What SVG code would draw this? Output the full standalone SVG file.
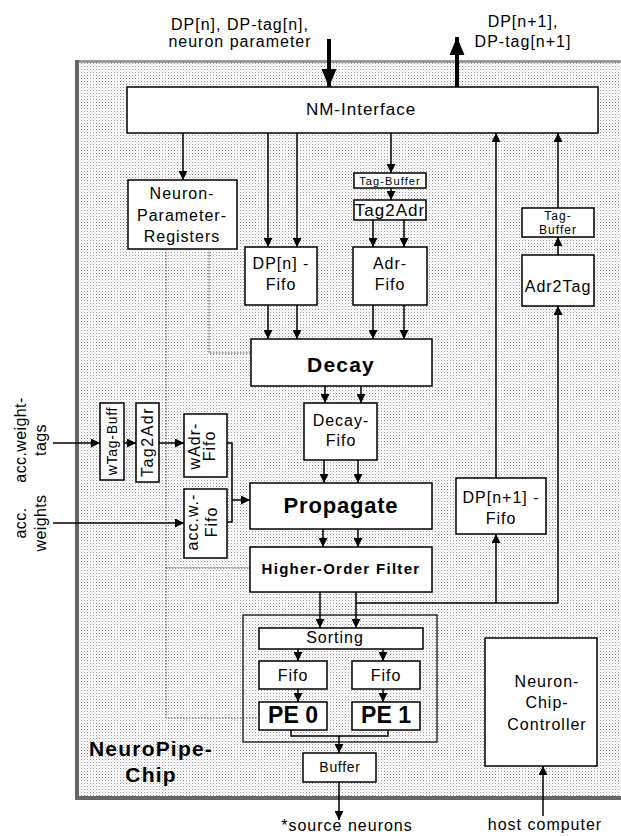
<svg xmlns="http://www.w3.org/2000/svg" width="621" height="836" viewBox="0 0 621 836">
<style>
text{font-family:"Liberation Sans",Arial,sans-serif;fill:#000;}
.t{font-size:16px;letter-spacing:1px;text-anchor:middle;}
.b{font-weight:bold;text-anchor:middle;}
.box{fill:#fff;stroke:#000;stroke-width:1.5;}
.c{fill:none;stroke:#000;stroke-width:1.5;}
.ca{fill:none;stroke:#000;stroke-width:1.5;marker-end:url(#ah);}
.dot{fill:none;stroke:#444;stroke-width:1;stroke-dasharray:1.5 1.5;}
</style>
<defs>
<pattern id="dots" patternUnits="userSpaceOnUse" width="3" height="3">
<rect width="3" height="3" fill="#fff"/>
<rect width="1" height="1" fill="#999"/>
<rect x="1.5" y="1.5" width="1" height="1" fill="#ccc"/>
</pattern>
<marker id="ah" viewBox="0 0 9 9" refX="9" refY="4.5" markerWidth="9" markerHeight="9" markerUnits="userSpaceOnUse" orient="auto"><path d="M0,0 L9,4.5 L0,9 z" fill="#000"/></marker>
<marker id="big" viewBox="0 0 18 15" refX="18" refY="7.5" markerWidth="18" markerHeight="15" markerUnits="userSpaceOnUse" orient="auto"><path d="M0,0 L18,7.5 L0,15 z" fill="#000"/></marker>
</defs>

<g id="chip">
<rect x="75" y="60" width="546" height="740" fill="url(#dots)"/>
<rect x="75" y="60" width="546" height="3" fill="#999"/>
<rect x="75" y="60" width="4" height="740" fill="#666"/>
<rect x="75" y="796" width="546" height="4" fill="#666"/>
<text x="151" y="756" class="b" style="font-size:21px;letter-spacing:1.2px">NeuroPipe-</text>
<text x="151" y="782" class="b" style="font-size:21px;letter-spacing:1.2px">Chip</text>
</g>

<g id="labels">
<text x="240" y="30" class="t">DP[n], DP-tag[n],</text>
<text x="240" y="47" class="t">neuron parameter</text>
<text x="523" y="27" class="t">DP[n+1],</text>
<text x="523" y="47" class="t">DP-tag[n+1]</text>
<text transform="translate(26,440) rotate(-90)" class="t" style="letter-spacing:0.4px">acc.weight-</text>
<text transform="translate(46,440) rotate(-90)" class="t" style="letter-spacing:0.4px">tags</text>
<text transform="translate(26,523) rotate(-90)" class="t" style="letter-spacing:0.4px">acc.</text>
<text transform="translate(46,523) rotate(-90)" class="t" style="letter-spacing:0.4px">weights</text>
<text x="347" y="831" class="t">*source neurons</text>
<text x="545" y="830" class="t">host computer</text>
</g>

<g id="nm-interface">
<rect class="box" x="127" y="87" width="471" height="46"/>
<text x="361" y="115" class="t" style="font-size:17px">NM-Interface</text>
</g>

<g id="neuron-parameter-registers">
<rect class="box" x="128" y="180" width="109" height="69"/>
<text x="182" y="199" class="t">Neuron-</text>
<text x="182" y="221" class="t">Parameter-</text>
<text x="182" y="242" class="t">Registers</text>
</g>

<g id="dp-fifo">
<rect class="box" x="245" y="247" width="72" height="58"/>
<text x="281" y="269" class="t">DP[n] -</text>
<text x="281" y="290" class="t">Fifo</text>
</g>

<g id="tag-buffer-1">
<rect class="box" x="354" y="173" width="72" height="15"/>
<text x="390" y="185" class="t" style="font-size:11px;letter-spacing:1.1px">Tag-Buffer</text>
</g>

<g id="tag2adr">
<rect class="box" x="354" y="200" width="72" height="20"/>
<text x="390" y="216" class="t" style="font-size:17px">Tag2Adr</text>
</g>

<g id="adr-fifo">
<rect class="box" x="353" y="247" width="74" height="58"/>
<text x="390" y="269" class="t">Adr-</text>
<text x="390" y="290" class="t">Fifo</text>
</g>

<g id="tag-buffer-2">
<rect class="box" x="522" y="208" width="72" height="29"/>
<text x="558" y="220" class="t" style="font-size:12px">Tag-</text>
<text x="558" y="234" class="t" style="font-size:12px">Buffer</text>
</g>

<g id="adr2tag">
<rect class="box" x="522" y="255" width="72" height="51"/>
<text x="558" y="292" class="t">Adr2Tag</text>
</g>

<g id="decay">
<rect class="box" x="251" y="339" width="181" height="47"/>
<text x="341" y="372" class="b" style="font-size:21px;letter-spacing:1.2px">Decay</text>
</g>

<g id="decay-fifo">
<rect class="box" x="304" y="403" width="73" height="57"/>
<text x="341" y="426" class="t">Decay-</text>
<text x="341" y="446" class="t">Fifo</text>
</g>

<g id="wtag-buff">
<rect class="box" x="100" y="403" width="24" height="77"/>
<text transform="translate(117,441) rotate(-90)" class="t" style="font-size:14px;letter-spacing:0.7px">wTag-Buff</text>
</g>

<g id="tag2adr-w">
<rect class="box" x="136" y="403" width="23" height="79"/>
<text transform="translate(153,442) rotate(-90)" class="t" style="letter-spacing:1.5px">Tag2Adr</text>
</g>

<g id="wadr-fifo">
<rect class="box" x="184" y="414" width="43" height="63"/>
<text transform="translate(200,446) rotate(-90)" class="t">wAdr-</text>
<text transform="translate(215,446) rotate(-90)" class="t">Fifo</text>
</g>

<g id="accw-fifo">
<rect class="box" x="184" y="489" width="43" height="69"/>
<text transform="translate(198,522) rotate(-90)" class="t">acc.w.-</text>
<text transform="translate(217,522) rotate(-90)" class="t">Fifo</text>
</g>

<g id="propagate">
<rect class="box" x="250" y="483" width="182" height="46"/>
<text x="341" y="513" class="b" style="font-size:22px;letter-spacing:0.8px">Propagate</text>
</g>

<g id="higher-order-filter">
<rect class="box" x="250" y="547" width="182" height="45"/>
<text x="341" y="574" class="b" style="font-size:15px;letter-spacing:1.3px">Higher-Order Filter</text>
</g>

<g id="dp-n1-fifo">
<rect class="box" x="456" y="478" width="90" height="56"/>
<text x="501" y="503" class="t">DP[n+1] -</text>
<text x="501" y="524" class="t">Fifo</text>
</g>

<g id="pe-unit">
<rect x="243" y="615" width="194" height="127" fill="none" stroke="#000" stroke-width="1.2"/>
</g>

<g id="sorting">
<rect class="box" x="259" y="628" width="164" height="21"/>
<text x="335" y="643" class="t">Sorting</text>
</g>

<g id="fifo-0">
<rect class="box" x="259" y="661" width="68" height="28"/>
<text x="293" y="681" class="t">Fifo</text>
</g>

<g id="fifo-1">
<rect class="box" x="352" y="661" width="68" height="28"/>
<text x="386" y="681" class="t">Fifo</text>
</g>

<g id="pe-0">
<rect class="box" x="259" y="702" width="68" height="28"/>
<text x="293" y="723" class="b" style="font-size:23px">PE 0</text>
</g>

<g id="pe-1">
<rect class="box" x="352" y="702" width="68" height="28"/>
<text x="386" y="723" class="b" style="font-size:23px">PE 1</text>
</g>

<g id="buffer">
<rect class="box" x="303" y="753" width="73" height="29"/>
<text x="340" y="772" class="t" style="font-size:14px;letter-spacing:0.7px">Buffer</text>
</g>

<g id="neuron-chip-controller">
<rect class="box" x="485" y="638" width="112" height="128"/>
<text x="547" y="687" class="t">Neuron-</text>
<text x="547" y="708" class="t">Chip-</text>
<text x="547" y="730" class="t">Controller</text>
</g>

<g id="connectors">
<path d="M329,39 V87" stroke="#000" stroke-width="4" fill="none" marker-end="url(#big)"/>
<path d="M457,87 V37" stroke="#000" stroke-width="4" fill="none" marker-end="url(#big)"/>
<path class="ca" d="M183,133 V180"/>
<path class="ca" d="M268,133 V247"/>
<path class="ca" d="M297,133 V247"/>
<path class="ca" d="M391,133 V173"/>
<path class="ca" d="M391,188 V200"/>
<path class="ca" d="M373,220 V247"/>
<path class="ca" d="M404,220 V247"/>
<path class="ca" d="M268,305 V339"/>
<path class="ca" d="M297,305 V339"/>
<path class="ca" d="M373,305 V339"/>
<path class="ca" d="M404,305 V339"/>
<path class="ca" d="M325,386 V403"/>
<path class="ca" d="M361,386 V403"/>
<path class="ca" d="M324,460 V483"/>
<path class="ca" d="M358,460 V483"/>
<path class="ca" d="M323,529 V547"/>
<path class="ca" d="M358,529 V547"/>
<path class="ca" d="M320,592 V628"/>
<path class="ca" d="M356,592 V628"/>
<path class="c" d="M356,603 H558"/>
<path class="ca" d="M496,603 V534"/>
<path class="ca" d="M496,478 V133"/>
<path class="ca" d="M558,603 V306"/>
<path class="ca" d="M558,255 V237"/>
<path class="ca" d="M558,208 V133"/>
<path class="ca" d="M298,649 V661"/>
<path class="ca" d="M383,649 V661"/>
<path class="ca" d="M298,689 V702"/>
<path class="ca" d="M383,689 V702"/>
<path class="c" d="M291,730 V736 H388 V730"/>
<path class="ca" d="M339,736 V753"/>
<path class="ca" d="M339,782 V820"/>
<path class="ca" d="M543,816 V766"/>
<path class="ca" d="M53,443 H100"/>
<path class="ca" d="M124,443 H136"/>
<path class="ca" d="M159,443 H184"/>
<path class="ca" d="M53,523 H184"/>
<path class="c" d="M227,443 H232 V522 H227"/>
<path class="ca" d="M232,500 H250"/>
<path class="dot" d="M166,249 V718 H259"/>
<path class="dot" d="M166,568 H250"/>
<path class="dot" d="M209,249 V353 H251"/>
</g>
</svg>
